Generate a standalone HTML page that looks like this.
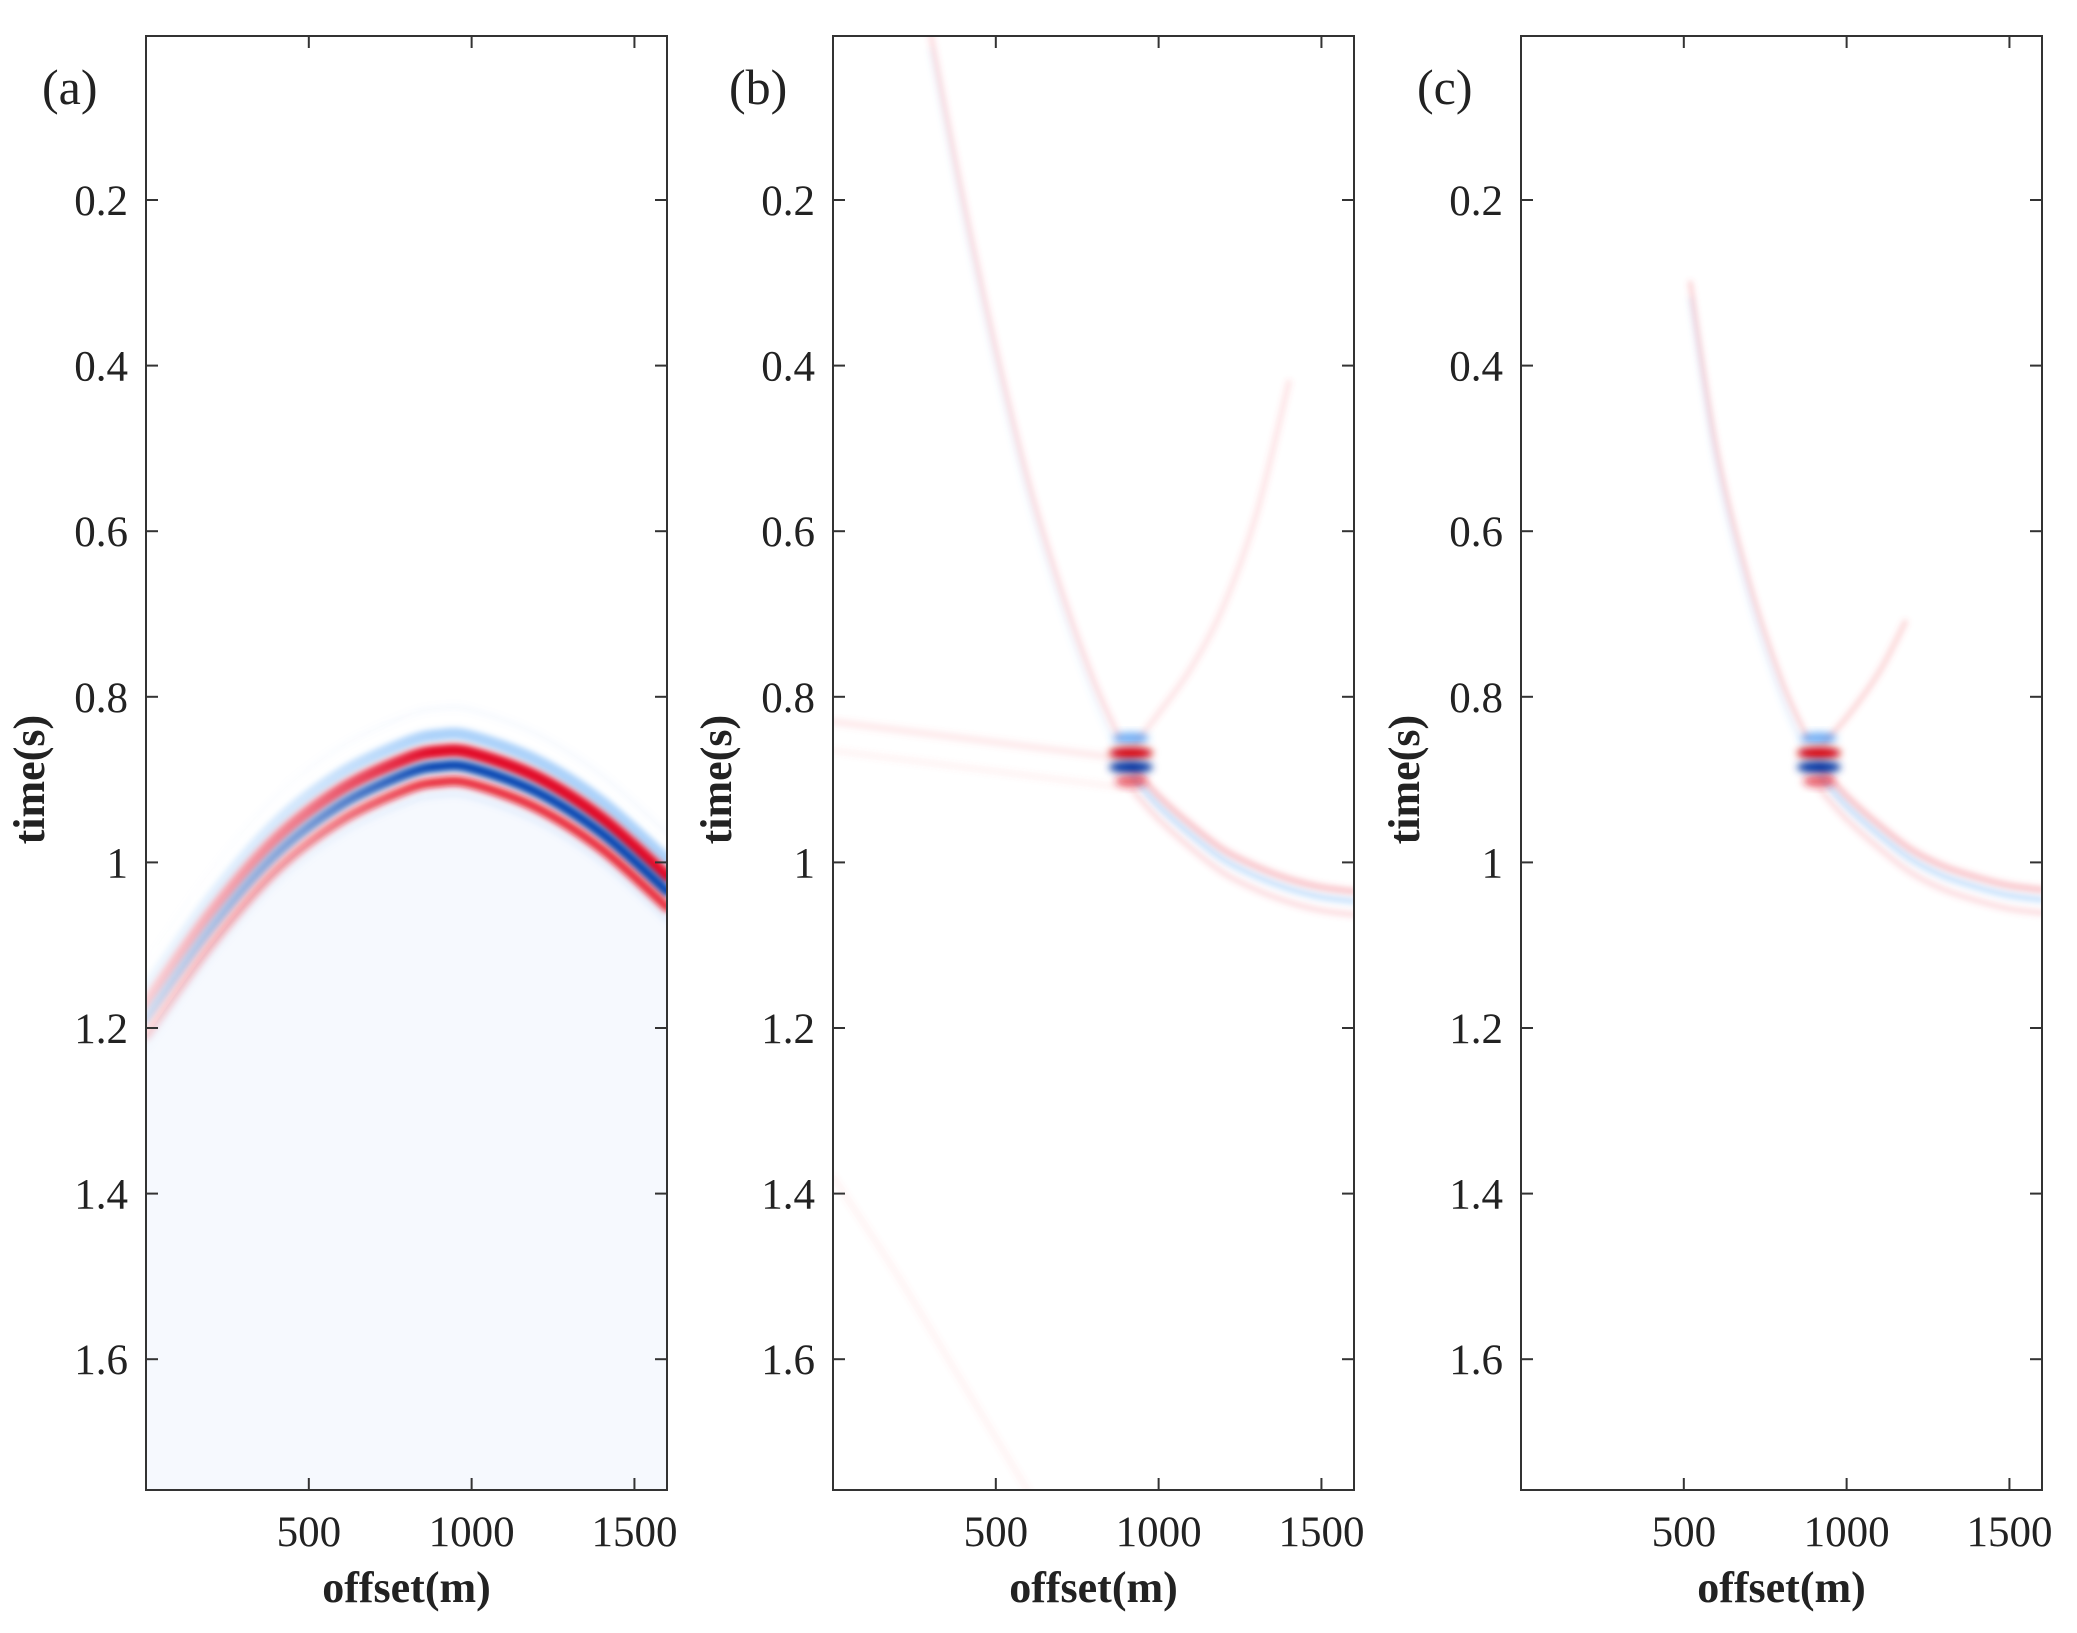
<!DOCTYPE html>
<html><head><meta charset="utf-8"><style>
body{margin:0;background:#fff}
svg{display:block}
text{font-family:"Liberation Serif",serif;fill:#222}
</style></head><body>
<svg id="fig" width="2077" height="1633" viewBox="0 0 2077 1633">
<defs>
<filter id="bl" x="-20%" y="-20%" width="140%" height="140%"><feGaussianBlur stdDeviation="3"/></filter>
<filter id="bl2" x="-50%" y="-50%" width="200%" height="200%"><feGaussianBlur stdDeviation="4"/></filter>
<linearGradient id="fadeG" x1="146" x2="667" y1="0" y2="0" gradientUnits="userSpaceOnUse"><stop offset="0" stop-color="#fff" stop-opacity="0.2"/><stop offset="0.3" stop-color="#fff" stop-opacity="0.55"/><stop offset="0.55" stop-color="#fff" stop-opacity="1"/></linearGradient>
<mask id="fadeA" maskUnits="userSpaceOnUse" x="0" y="0" width="2077" height="1633"><rect x="0" y="0" width="2077" height="1633" fill="url(#fadeG)"/></mask>
</defs>
</svg>
<script>
// ---- data ----
const panelLabels = ["(a)", "(b)", "(c)"];
const yTicks = [0.2, 0.4, 0.6, 0.8, 1, 1.2, 1.4, 1.6];
const yTickLabels = ["0.2", "0.4", "0.6", "0.8", "1", "1.2", "1.4", "1.6"];
const xTicks = [500, 1000, 1500];
const xTickLabels = ["500", "1000", "1500"];
// panel (a) hyperbola: blue centre times
const aOffsets = [0, 200, 400, 600, 800, 900, 1000, 1200, 1400, 1600];
const aTimes = [1.19, 1.08, 0.99, 0.93, 0.893, 0.884, 0.886, 0.915, 0.965, 1.035];
// panel (b) events
const bLeftOff = [300, 400, 500, 600, 700, 800, 880];
const bLeftT = [0.0, 0.2, 0.38, 0.54, 0.67, 0.78, 0.85];
const bRightOff = [930, 1000, 1100, 1200, 1300, 1400];
const bRightT = [0.855, 0.82, 0.765, 0.69, 0.58, 0.42];
const bLowOff = [920, 1000, 1100, 1200, 1300, 1400, 1500, 1600];
const bLowT = [0.885, 0.92, 0.955, 0.985, 1.005, 1.02, 1.03, 1.035];
const bFlatOff = [0, 300, 600, 900];
const bFlatT = [0.83, 0.845, 0.86, 0.875];
const bDiagOff = [0, 200, 400, 600];
const bDiagT = [1.38, 1.5, 1.63, 1.76];
// panel (c) events
const cLeftOff = [520, 600, 700, 800, 880];
const cLeftT = [0.3, 0.5, 0.66, 0.78, 0.85];
const cRightOff = [930, 1000, 1100, 1180];
const cRightT = [0.855, 0.825, 0.77, 0.71];
const cLowOff = [920, 1000, 1100, 1200, 1300, 1400, 1500, 1600];
const cLowT = [0.885, 0.92, 0.955, 0.985, 1.005, 1.018, 1.028, 1.033];

// ---- layout ----
const NS = "http://www.w3.org/2000/svg";
const svg = document.getElementById("fig");
const lefts = [146, 833, 1521];
const PW = 521, TOP = 36, BOT = 1490;
const yOf = t => 200 + (t - 0.2) * 828;
function mk(tag, attrs, parent) {
  const e = document.createElementNS(NS, tag);
  for (const k in attrs) e.setAttribute(k, attrs[k]);
  (parent || svg).appendChild(e);
  return e;
}
function pathFrom(xf, offs, ts, dt) {
  const P = offs.map((o, i) => [xf(o), yOf(ts[i] + dt)]);
  let d = "M" + P[0][0].toFixed(1) + "," + P[0][1].toFixed(1);
  for (let i = 0; i < P.length - 1; i++) {
    const p0 = P[i - 1] || P[i], p1 = P[i], p2 = P[i + 1], p3 = P[i + 2] || P[i + 1];
    const c1 = [p1[0] + (p2[0] - p0[0]) / 6, p1[1] + (p2[1] - p0[1]) / 6];
    const c2 = [p2[0] - (p3[0] - p1[0]) / 6, p2[1] - (p3[1] - p1[1]) / 6];
    d += " C" + c1.map(v => v.toFixed(1)).join(",") + " " + c2.map(v => v.toFixed(1)).join(",") + " " + p2.map(v => v.toFixed(1)).join(",");
  }
  return d;
}
function curve(g, xf, offs, ts, dt, color, w, op, name) {
  const p = mk("path", {d: pathFrom(xf, offs, ts, dt), fill: "none", stroke: color, "stroke-width": w, "stroke-opacity": op, "stroke-linecap": "round", filter: "url(#bl)"}, g);
  
  
}

lefts.forEach((L, pi) => {
  const xf = o => L + o / 1600 * PW;
  const g = mk("g", {});
  
  
  const clipId = "clip" + pi;
  const cp = mk("clipPath", {id: clipId}, g);
  mk("rect", {x: L, y: TOP, width: PW, height: BOT - TOP}, cp);
  const img = mk("g", {"clip-path": "url(#" + clipId + ")"}, g);
  
  
  if (pi === 0) {
    const bg = mk("path", {d: pathFrom(xf, aOffsets, aTimes, 0.02) + " L" + (L + PW) + "," + BOT + " L" + L + "," + BOT + " Z", fill: "#f6f9fe"}, img);
    
    
    const ev = mk("g", {mask: "url(#fadeA)"}, img);
    curve(ev, xf, aOffsets, aTimes, -0.07, "#7ab0f0", 6, 0.06, "faint-event");
    curve(ev, xf, aOffsets, aTimes, -0.038, "#5aa5f5", 12, 0.5, "blue-halo");
    curve(ev, xf, aOffsets, aTimes, -0.018, "#e0001a", 13, 0.95, "red-top");
    curve(ev, xf, aOffsets, aTimes, 0.0, "#0040b0", 11, 0.95, "blue-centre");
    curve(ev, xf, aOffsets, aTimes, 0.019, "#e8101e", 10, 0.85, "red-bottom");
    curve(ev, xf, aOffsets, aTimes, 0.035, "#8ab8f0", 6, 0.15, "blue-tail");
  } else if (pi === 1) {
    curve(img, xf, bFlatOff, bFlatT, 0, "#f06070", 8, 0.12, "flat-event");
    curve(img, xf, bFlatOff, bFlatT, 0.035, "#f06070", 6, 0.08, "flat-event-2");
    curve(img, xf, bDiagOff, bDiagT, 0, "#f06070", 6, 0.08, "diag-event");
    curve(img, xf, bLeftOff, bLeftT, 0, "#f05060", 6, 0.18, "left-branch");
    curve(img, xf, bLeftOff, bLeftT, 0.02, "#5aa0f0", 5, 0.08, "left-branch-blue");
    curve(img, xf, bRightOff, bRightT, 0, "#f05060", 6, 0.15, "right-branch");
    curve(img, xf, bLowOff, bLowT, 0, "#f05060", 7, 0.3, "low-branch-red");
    curve(img, xf, bLowOff, bLowT, 0.012, "#4d9ff5", 6, 0.3, "low-branch-blue");
    curve(img, xf, bLowOff, bLowT, 0.028, "#f05060", 6, 0.18, "low-branch-red2");
  } else {
    curve(img, xf, cLeftOff, cLeftT, 0, "#f05060", 5, 0.25, "left-branch");
    curve(img, xf, cLeftOff, cLeftT, 0.02, "#5aa0f0", 5, 0.12, "left-branch-blue");
    curve(img, xf, cRightOff, cRightT, 0, "#f05060", 6, 0.22, "right-branch");
    curve(img, xf, cLowOff, cLowT, 0, "#f05060", 7, 0.3, "low-branch-red");
    curve(img, xf, cLowOff, cLowT, 0.012, "#4d9ff5", 6, 0.3, "low-branch-blue");
    curve(img, xf, cLowOff, cLowT, 0.028, "#f05060", 6, 0.18, "low-branch-red2");
  }
  if (pi > 0) {
    const bx = xf(915);
    [[0.85, "#3b8ff0", 0.7, 18], [0.868, "#d00010", 1, 22], [0.885, "#0030a0", 1, 22], [0.902, "#e02030", 0.7, 16]].forEach(b => {
      const e = mk("ellipse", {cx: bx, cy: yOf(b[0]), rx: b[3], ry: 6, fill: b[1], "fill-opacity": b[2], filter: "url(#bl2)"}, img);
      
      
    });
  }
  const fr = mk("rect", {x: L, y: TOP, width: PW, height: BOT - TOP, fill: "none", stroke: "#333", "stroke-width": 2}, g);
  
  
  yTicks.forEach((t, i) => {
    const y = yOf(t);
    mk("line", {x1: L, x2: L + 12, y1: y, y2: y, stroke: "#333", "stroke-width": 2}, g);
    mk("line", {x1: L + PW - 12, x2: L + PW, y1: y, y2: y, stroke: "#333", "stroke-width": 2}, g);
    const tx = mk("text", {x: L - 18, y: y + 15, "text-anchor": "end", "font-size": 43}, g);
    tx.textContent = yTickLabels[i];
    
    
  });
  xTicks.forEach((o, i) => {
    const x = xf(o);
    mk("line", {x1: x, x2: x, y1: BOT, y2: BOT - 12, stroke: "#333", "stroke-width": 2}, g);
    mk("line", {x1: x, x2: x, y1: TOP, y2: TOP + 12, stroke: "#333", "stroke-width": 2}, g);
    const tx = mk("text", {x: x, y: BOT + 56, "text-anchor": "middle", "font-size": 43}, g);
    tx.textContent = xTickLabels[i];
    
    
  });
  const xl = mk("text", {x: L + PW / 2, y: BOT + 112, "text-anchor": "middle", "font-size": 44, "font-weight": "bold"}, g);
  xl.textContent = "offset(m)";
  
  
  const yl = mk("text", {x: 0, y: 0, "text-anchor": "middle", "font-size": 44, "font-weight": "bold", transform: "translate(" + (L - 102) + "," + yOf(0.9) + ") rotate(-90)"}, g);
  yl.textContent = "time(s)";
  
  
  const pl = mk("text", {x: L - 104, y: 104, "font-size": 50}, g);
  pl.textContent = panelLabels[pi];
  
  
});
</script>
</body></html>
